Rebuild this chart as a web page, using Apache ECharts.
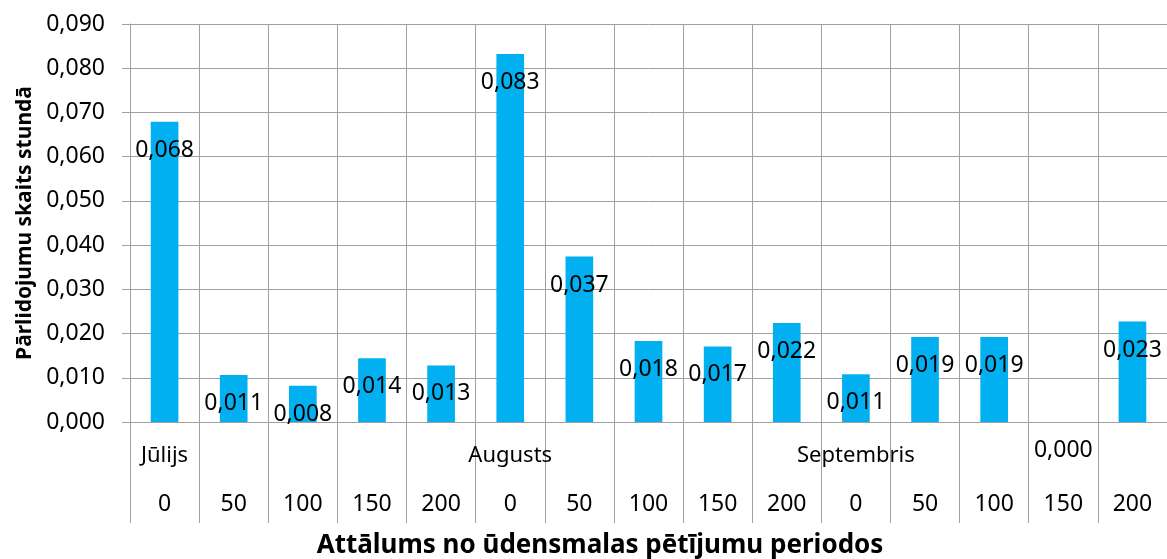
<!DOCTYPE html>
<html>
<head>
<meta charset="utf-8">
<script src="https://cdn.jsdelivr.net/npm/echarts@6/dist/echarts.min.js"></script>
<style>
html,body{margin:0;padding:0;background:#fff;}
#chart{width:1167px;height:559px;}
</style>
</head>
<body>
<div id="chart"></div>
<script>
// Data
const monthLabels = ['Jūlijs','','','','','Augusts','','','','','Septembris','','','',''];
const distances = ['0','50','100','150','200','0','50','100','150','200','0','50','100','150','200'];
const values = [0.0679, 0.0106, 0.0082, 0.0144, 0.0128, 0.0832, 0.0374, 0.0183, 0.0171, 0.0224, 0.0108, 0.0192, 0.0192, 0.0000, 0.0227];
const yTitle = 'Pārlidojumu skaits stundā';
const xTitle = 'Attālums no ūdensmalas pētījumu periodos';

const FONT = 'Noto Sans';
const GRID_COLOR = '#a0a0a0';
const fmt = v => Number(v).toFixed(3).replace('.', ',');

const chart = echarts.init(document.getElementById('chart'));
chart.setOption({
  animation: false,
  textStyle: { fontFamily: FONT },
  grid: { left: 130, top: 24, width: 1038, height: 398, containLabel: false },
  xAxis: [
    {
      type: 'category',
      data: distances,
      position: 'bottom',
      axisLine: { show: true, lineStyle: { color: GRID_COLOR, width: 1 } },
      axisTick: { show: true, length: 101, lineStyle: { color: GRID_COLOR, width: 1 } },
      axisLabel: { interval: 0, margin: 71, fontSize: 23, color: '#000', fontFamily: FONT },
      splitLine: { show: true, interval: 0, lineStyle: { color: GRID_COLOR, width: 1 } }
    },
    {
      type: 'category',
      data: monthLabels,
      position: 'bottom',
      axisLine: { show: false },
      axisTick: { show: false },
      splitLine: { show: false },
      axisLabel: { interval: 0, margin: 23, fontSize: 22, color: '#000', fontFamily: FONT }
    }
  ],
  yAxis: {
    type: 'value',
    min: 0,
    max: 0.09,
    interval: 0.01,
    name: yTitle,
    nameLocation: 'middle',
    nameGap: 92,
    nameRotate: 90,
    nameTextStyle: { fontSize: 21, fontWeight: 'bold', color: '#000', fontFamily: FONT },
    axisLine: { show: true, lineStyle: { color: GRID_COLOR, width: 1 } },
    axisTick: { show: true, length: 8, lineStyle: { color: GRID_COLOR, width: 1 } },
    axisLabel: { margin: 25, fontSize: 23, color: '#000', fontFamily: FONT, formatter: fmt },
    splitLine: { show: true, lineStyle: { color: GRID_COLOR, width: 1 } }
  },
  series: [{
    type: 'bar',
    xAxisIndex: 0,
    data: values,
    barWidth: '40%',
    itemStyle: { color: '#00B0F0' },
    label: {
      show: true,
      position: 'insideTop',
      distance: 17,
      fontSize: 23,
      color: '#000',
      fontFamily: FONT,
      formatter: p => fmt(p.value)
    }
  }],
  graphic: [{
    type: 'text',
    x: 600,
    y: 546,
    style: {
      text: xTitle,
      fontSize: 26,
      fontWeight: 'bold',
      fill: '#000',
      fontFamily: FONT,
      align: 'center',
      verticalAlign: 'middle'
    }
  }]
});
</script>
</body>
</html>
